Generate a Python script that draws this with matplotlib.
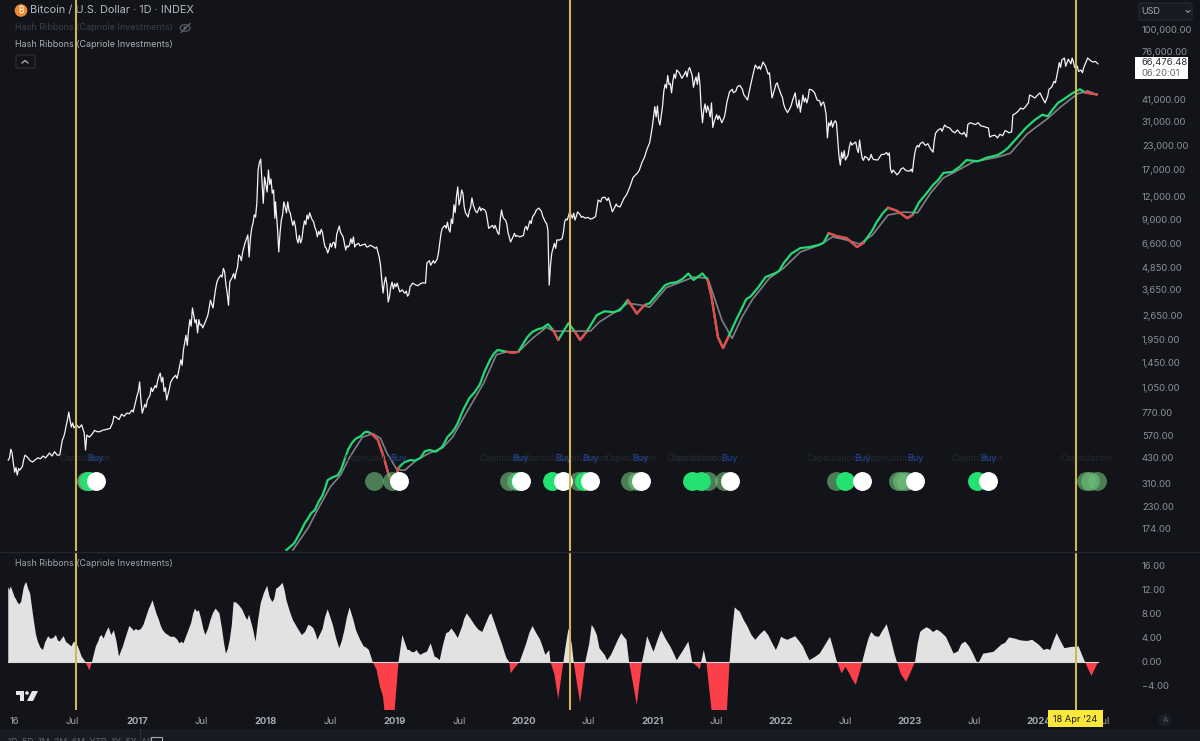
import matplotlib
matplotlib.use("Agg")
import numpy as np
import matplotlib.pyplot as plt
from matplotlib.patches import Rectangle, Circle, Ellipse, FancyBboxPatch, Polygon
from matplotlib.ticker import FixedLocator, FixedFormatter, NullLocator

plt.rcParams['font.family'] = ['Inter', 'DejaVu Sans']

price_dates = [2016.00,2016.03,2016.05,2016.09,2016.15,2016.19,2016.32,2016.40,2016.42,2016.44,2016.47,2016.49,2016.50,2016.57,2016.60,2016.61,2016.69,2016.71,2016.79,2016.84,2016.97,2017.00,2017.02,2017.04,2017.08,2017.12,2017.18,2017.20,2017.23,2017.28,2017.32,2017.36,2017.40,2017.43,2017.47,2017.49,2017.53,2017.59,2017.62,2017.67,2017.71,2017.72,2017.78,2017.79,2017.82,2017.86,2017.87,2017.89,2017.92,2017.94,2017.96,2017.98,2017.99,2018.01,2018.02,2018.06,2018.07,2018.075,2018.09,2018.10,2018.12,2018.14,2018.16,2018.17,2018.20,2018.23,2018.25,2018.27,2018.29,2018.32,2018.34,2018.38,2018.40,2018.44,2018.46,2018.48,2018.52,2018.54,2018.57,2018.60,2018.62,2018.64,2018.68,2018.69,2018.75,2018.79,2018.86,2018.88,2018.90,2018.91,2018.93,2018.95,2018.98,2019.02,2019.04,2019.10,2019.14,2019.24,2019.25,2019.31,2019.34,2019.37,2019.41,2019.43,2019.47,2019.49,2019.50,2019.52,2019.55,2019.57,2019.60,2019.64,2019.70,2019.73,2019.80,2019.83,2019.86,2019.90,2019.97,2020.03,2020.07,2020.12,2020.17,2020.19,2020.20,2020.22,2020.28,2020.34,2020.36,2020.40,2020.42,2020.48,2020.54,2020.58,2020.63,2020.67,2020.69,2020.75,2020.80,2020.85,2020.90,2020.94,2020.98,2021.02,2021.06,2021.11,2021.15,2021.19,2021.23,2021.29,2021.32,2021.36,2021.39,2021.46,2021.47,2021.54,2021.60,2021.68,2021.74,2021.76,2021.80,2021.86,2021.91,2021.93,2021.98,2022.05,2022.11,2022.15,2022.17,2022.20,2022.24,2022.34,2022.36,2022.37,2022.43,2022.44,2022.46,2022.47,2022.50,2022.55,2022.61,2022.67,2022.75,2022.84,2022.86,2022.90,2022.95,2023.02,2023.04,2023.10,2023.18,2023.20,2023.27,2023.31,2023.44,2023.47,2023.53,2023.61,2023.62,2023.68,2023.79,2023.80,2023.92,2023.93,2024.01,2024.05,2024.10,2024.15,2024.18,2024.27,2024.34,2024.42,2024.46]
price_values = [418,457,358,368,433,408,457,446,540,595,770,637,670,655,475,575,600,600,625,720,770,950,1130,760,898,1000,1265,1200,898,1190,1265,1700,2190,2900,2110,2330,2430,2900,4030,4800,3000,4050,4880,5700,5920,7350,5550,8000,9230,16810,19300,11000,15350,12700,16810,13030,9100,11200,8130,5920,8890,11200,9750,11200,8890,8130,6640,6640,8000,9470,9750,8130,7170,7550,6300,5840,6640,6230,8230,7170,6070,6300,7170,6300,6470,6300,6300,5550,4140,3510,4300,3130,4030,3980,3560,3370,3980,3980,5130,5130,5840,8000,8660,7620,9750,13550,10760,13030,9750,9230,11780,9750,10100,8000,7550,10100,8890,6720,7170,7830,9230,10350,8660,7830,3880,5840,6890,8890,9870,8890,9870,9100,9100,11470,11900,11200,9870,10500,12250,15200,16810,19800,23800,37700,29800,47700,44900,60090,54000,62000,48200,58000,30700,39500,28900,30700,45500,49400,41000,48200,64000,66500,58000,42100,48200,34900,44900,35100,43700,39500,46570,37500,25300,30700,30700,24630,17900,21100,19090,23100,24630,19600,19090,20900,16200,15800,17300,16400,21100,24000,21100,26900,29800,28700,25600,30700,30700,28700,25600,25300,27300,33900,39500,43700,44900,39500,48200,60090,68250,66500,58000,66500,65000]

## in-between closes
price_extra_dates = [2016.01,2016.02,2016.04,2016.06,2016.07,2016.08,2016.11,2016.12,2016.13,2016.17,2016.21,2016.23,2016.25,2016.27,2016.29,2016.34,2016.36,2016.38,2016.43,2016.45,2016.46,2016.48,2016.51,2016.53,2016.55,2016.58,2016.59,2016.63,2016.65,2016.67,2016.73,2016.75,2016.77,2016.81,2016.82,2016.86,2016.88,2016.90,2016.92,2016.94,2016.96,2017.01,2017.03,2017.05,2017.06,2017.07,2017.10,2017.11,2017.14,2017.15,2017.16,2017.17,2017.19,2017.21,2017.22,2017.24,2017.25,2017.26,2017.30,2017.31,2017.34,2017.35,2017.38,2017.39,2017.41,2017.42,2017.44,2017.45,2017.46,2017.48,2017.50,2017.51,2017.55,2017.57,2017.60,2017.61,2017.63,2017.65,2017.66,2017.68,2017.69,2017.70,2017.74,2017.75,2017.76,2017.77,2017.80,2017.81,2017.83,2017.84,2017.85,2017.88,2017.90,2017.91,2017.93,2017.95,2017.97,2018.00,2018.03,2018.04,2018.05,2018.08,2018.11,2018.13,2018.15,2018.18,2018.19,2018.21,2018.22,2018.24,2018.26,2018.28,2018.30,2018.31,2018.33,2018.35,2018.36,2018.37,2018.39,2018.41,2018.42,2018.43,2018.45,2018.47,2018.49,2018.50,2018.51,2018.53,2018.55,2018.56,2018.58,2018.59,2018.61,2018.63,2018.65,2018.66,2018.67,2018.70,2018.72,2018.73,2018.77,2018.78,2018.81,2018.83,2018.85,2018.89,2018.92,2018.94,2018.96,2018.97,2018.99,2019.00,2019.01,2019.03,2019.06,2019.07,2019.08,2019.09,2019.11,2019.12,2019.16,2019.18,2019.20,2019.22,2019.27,2019.28,2019.30,2019.33,2019.36,2019.39,2019.40,2019.42,2019.44,2019.45,2019.46,2019.48,2019.51,2019.53,2019.54,2019.56,2019.58,2019.59,2019.61,2019.62,2019.63,2019.66,2019.67,2019.68,2019.71,2019.72,2019.75,2019.76,2019.77,2019.78,2019.81,2019.82,2019.84,2019.85,2019.87,2019.88,2019.92,2019.93,2019.94,2019.95,2020.00,2020.01,2020.02,2020.05,2020.06,2020.09,2020.10,2020.14,2020.15,2020.16,2020.18,2020.21,2020.24,2020.25,2020.26,2020.30,2020.31,2020.32,2020.33,2020.35,2020.38,2020.39,2020.41,2020.44,2020.45,2020.46,2020.50,2020.52,2020.56,2020.60,2020.61,2020.65,2020.66,2020.71,2020.72,2020.73,2020.77,2020.78,2020.82,2020.83,2020.87,2020.88,2020.92,2020.96,2021.00,2021.01,2021.03,2021.04,2021.05,2021.08,2021.09,2021.10,2021.12,2021.13,2021.14,2021.16,2021.17,2021.18,2021.21,2021.25,2021.26,2021.27,2021.28,2021.31,2021.33,2021.34,2021.35,2021.37,2021.38,2021.40,2021.41,2021.42,2021.43,2021.44,2021.45,2021.48,2021.50,2021.51,2021.52,2021.56,2021.57,2021.58,2021.62,2021.63,2021.65,2021.66,2021.70,2021.71,2021.72,2021.78,2021.79,2021.82,2021.83,2021.84,2021.88,2021.89,2021.90,2021.92,2021.95,2021.96,2021.97,2022.00,2022.01,2022.02,2022.03,2022.07,2022.08,2022.09,2022.12,2022.13,2022.14,2022.18,2022.19,2022.21,2022.22,2022.26,2022.27,2022.28,2022.30,2022.31,2022.32,2022.33,2022.35,2022.38,2022.39,2022.40,2022.41,2022.42,2022.45,2022.48,2022.49,2022.52,2022.53,2022.54,2022.56,2022.58,2022.59,2022.60,2022.62,2022.63,2022.64,2022.65,2022.68,2022.69,2022.70,2022.71,2022.72,2022.78,2022.80,2022.82,2022.83,2022.85,2022.87,2022.88,2022.92,2022.93,2022.96,2022.98,2023.00,2023.01,2023.03,2023.05,2023.06,2023.07,2023.08,2023.12,2023.14,2023.16,2023.19,2023.22,2023.24,2023.25,2023.29,2023.33,2023.35,2023.37,2023.39,2023.41,2023.42,2023.45,2023.49,2023.51,2023.55,2023.57,2023.59,2023.64,2023.66,2023.70,2023.72,2023.74,2023.77,2023.82,2023.84,2023.86,2023.88,2023.90,2023.95,2023.97,2023.99,2024.03,2024.07,2024.08,2024.12,2024.13,2024.16,2024.17,2024.20,2024.21,2024.23,2024.25,2024.26,2024.28,2024.29,2024.30,2024.31,2024.33,2024.35,2024.37,2024.38,2024.40,2024.44]
price_extra_values = [430,480,400,380,345,375,385,420,445,415,420,430,425,440,430,440,465,445,560,650,700,690,630,655,630,620,590,560,580,610,610,615,620,670,730,700,750,730,760,755,790,1000,900,800,850,820,950,1050,1080,1050,1150,1220,1130,1000,1050,960,1030,1120,1230,1180,1500,1400,2050,1800,2500,2300,2650,2400,2500,2500,2350,2250,2650,3200,3300,3700,4200,4400,4300,4600,3900,3500,4300,4500,4200,4600,5600,5300,6300,6700,7000,7000,8500,9500,11000,18500,14500,14000,14000,15000,12500,10000,7500,9500,10500,10000,9700,8300,8800,7000,7300,7000,8800,8400,9000,9300,8900,8700,7800,7700,7400,7900,6800,6200,6100,6600,6300,6700,7400,7800,7600,7400,6600,6400,6500,7000,6600,6500,6600,6400,6550,6350,6450,6350,6200,5000,4000,3900,3350,3800,3700,3950,3800,3750,3650,3550,3500,3600,3450,3800,3900,3850,3950,4000,5300,5000,5300,5400,7500,8300,8000,7900,9000,8500,10800,12000,11500,12500,10500,9500,10000,10500,10800,10300,9900,10500,10000,10300,9800,8900,8200,8300,8000,8300,7400,9000,9300,9000,8500,7600,7200,7500,7200,7300,7300,8000,8200,8800,8500,9700,10100,9900,9300,9000,8500,5000,6600,6200,6900,7000,7600,8700,9000,9400,9100,9700,9300,9500,9200,9300,9200,9000,9300,11200,11800,11400,11800,10500,10900,10600,11300,11700,13200,13800,15800,16000,18500,22000,29000,33000,33000,38000,31500,38000,46000,50000,56000,50000,50500,52000,57000,54000,58000,57000,59000,55000,60000,56000,52000,55000,50000,50000,37000,36000,39000,35000,38000,36000,33000,31000,34000,32000,33500,33000,36000,40000,47000,45000,46000,48500,47000,44000,43000,56000,60000,61000,63000,60500,63000,60000,57000,49000,47000,50000,51000,44000,42500,39000,37000,37000,38500,41000,39000,37000,41000,40000,42000,42000,47000,45000,43000,41000,40500,38000,39500,40000,34000,29500,31500,29000,30500,31500,20000,19500,21500,20300,22500,24000,23500,24000,22000,21000,21500,19500,19000,20000,19000,19500,20500,19500,19200,20500,20500,21000,20300,17000,16800,16500,16400,17000,16900,16600,16600,17000,19000,22500,23000,22500,23500,23000,23500,22000,24500,28000,28500,27500,29000,27500,27000,28000,26800,26500,27200,30000,30300,30000,29500,29300,29000,26000,26200,26500,26000,27800,27000,34500,35500,37000,36500,37800,43000,42000,43500,42000,43000,47000,52000,51000,66000,62000,70000,63000,69000,65000,70000,62000,64000,63000,59000,60000,62000,67000,70000,68000,67000]

## hash ribbon fast line
fast_dates = [2018.16,2018.27,2018.33,2018.38,2018.44,2018.48,2018.56,2018.61,2018.67,2018.79,2018.82,2018.87,2018.91,2018.95,2018.99,2019.03,2019.12,2019.20,2019.27,2019.37,2019.45,2019.49,2019.58,2019.66,2019.74,2019.80,2019.87,2019.92,2019.96,2020.07,2020.15,2020.19,2020.23,2020.27,2020.35,2020.40,2020.44,2020.49,2020.57,2020.70,2020.81,2020.88,2020.94,2020.98,2021.10,2021.19,2021.28,2021.32,2021.39,2021.43,2021.46,2021.51,2021.55,2021.59,2021.70,2021.76,2021.88,2021.95,2022.02,2022.15,2022.29,2022.37,2022.43,2022.51,2022.59,2022.64,2022.71,2022.83,2022.90,2022.98,2023.02,2023.13,2023.26,2023.33,2023.44,2023.53,2023.68,2023.76,2023.90,2024.03,2024.07,2024.15,2024.32,2024.36,2024.45]
fast_values = [133,168,200,221,267,324,345,418,522,600,585,540,446,354,303,378,418,430,475,495,600,670,920,1090,1495,1700,1660,1640,1660,2140,2250,2360,2190,1930,2390,2140,1930,2140,2650,2750,3210,2700,3010,3080,3880,4030,4500,4140,4500,4140,3340,2000,1740,2000,2930,3340,4300,4500,5130,6220,6470,7520,7250,7060,6300,6640,7830,10400,10000,9100,9470,12500,16200,16400,19090,18800,20300,22200,28700,34000,33300,39500,47000,45100,44000]
fast_extra_dates = [2018.22,2018.30,2018.35,2018.41,2018.46,2018.52,2018.585,2018.64,2018.70,2018.735,2018.765,2019.07,2019.16,2019.235,2019.32,2019.41,2019.47,2019.535,2019.62,2019.70,2019.77,2020.03,2020.11,2020.63,2020.75,2021.14,2021.235,2021.65,2021.73,2021.82,2021.985,2022.08,2022.22,2022.33,2022.74,2022.79,2023.07,2023.18,2023.22,2023.39,2023.49,2023.60,2023.72,2023.83,2023.97,2024.11,2024.20,2024.26]
fast_extra_values = [145,186,212,246,292,336,372,480,550,565,595,405,415,468,465,560,630,800,990,1300,1620,2000,2210,2780,2820,3980,4200,2480,3250,3750,4650,5800,6300,6650,8600,9700,11100,13900,14800,17600,18900,19700,21100,25200,31800,36400,41600,44600]

## hash ribbon slow line
slow_dates = [2018.21,2018.33,2018.40,2018.50,2018.58,2018.65,2018.75,2018.83,2018.89,2018.94,2019.02,2019.08,2019.17,2019.27,2019.37,2019.45,2019.56,2019.69,2019.79,2019.87,2019.96,2020.07,2020.18,2020.23,2020.36,2020.52,2020.59,2020.70,2020.81,2020.91,2020.98,2021.11,2021.22,2021.32,2021.43,2021.47,2021.54,2021.62,2021.70,2021.78,2021.91,2022.02,2022.15,2022.30,2022.40,2022.51,2022.61,2022.71,2022.83,2022.95,2023.06,2023.16,2023.26,2023.35,2023.49,2023.68,2023.78,2023.91,2024.07,2024.17,2024.30,2024.38,2024.45]
slow_values = [133,177,221,297,345,433,560,585,552,457,368,368,418,457,487,560,770,1110,1600,1660,1660,1970,2270,2160,2160,2160,2430,2720,3080,3010,2930,3760,4030,4300,4240,3510,2490,1970,2610,3250,4240,4820,5920,6470,7170,6890,6550,7350,9470,9840,9750,12500,15200,16400,18600,19800,20800,26600,32400,37500,44300,46000,44000]

## stretches where the fast line is under the slow one (drawn red)
red_periods = [(2018.82,2019.03),(2019.87,2019.96),(2020.23,2020.33),(2020.37,2020.49),(2020.81,2020.94),(2021.32,2021.37),(2021.40,2021.59),(2022.37,2022.64),(2022.83,2023.02),(2024.34,2024.46)]

## lower pane oscillator
hash_dates = [2016.00,2016.03,2016.07,2016.10,2016.14,2016.17,2016.20,2016.23,2016.27,2016.31,2016.34,2016.37,2016.40,2016.43,2016.49,2016.53,2016.57,2016.60,2016.63,2016.65,2016.68,2016.71,2016.74,2016.78,2016.80,2016.82,2016.86,2016.89,2016.94,2016.96,2017.01,2017.05,2017.12,2017.15,2017.20,2017.24,2017.29,2017.33,2017.36,2017.39,2017.45,2017.48,2017.53,2017.57,2017.61,2017.64,2017.69,2017.72,2017.75,2017.79,2017.84,2017.87,2017.92,2017.96,2018.01,2018.05,2018.08,2018.13,2018.16,2018.21,2018.28,2018.33,2018.37,2018.40,2018.48,2018.52,2018.57,2018.61,2018.65,2018.70,2018.76,2018.80,2018.83,2018.86,2018.91,2018.92,2019.00,2019.03,2019.06,2019.10,2019.13,2019.17,2019.20,2019.25,2019.28,2019.31,2019.35,2019.40,2019.44,2019.49,2019.56,2019.62,2019.68,2019.75,2019.80,2019.87,2019.89,2019.90,2019.93,2019.97,2020.07,2020.13,2020.17,2020.20,2020.21,2020.27,2020.31,2020.35,2020.39,2020.44,2020.48,2020.53,2020.59,2020.65,2020.71,2020.76,2020.80,2020.82,2020.88,2020.92,2020.96,2021.01,2021.07,2021.14,2021.19,2021.28,2021.31,2021.37,2021.38,2021.40,2021.42,2021.46,2021.58,2021.60,2021.64,2021.68,2021.74,2021.80,2021.87,2021.96,2022.00,2022.05,2022.11,2022.17,2022.22,2022.30,2022.38,2022.43,2022.47,2022.50,2022.53,2022.58,2022.63,2022.70,2022.76,2022.82,2022.88,2022.90,2022.97,2023.04,2023.08,2023.13,2023.18,2023.24,2023.28,2023.34,2023.43,2023.52,2023.53,2023.57,2023.65,2023.77,2023.86,2023.95,2024.04,2024.09,2024.14,2024.20,2024.31,2024.36,2024.41,2024.46]
hash_values = [12.5,12,10,10,13.3,11.4,6.7,3.4,2,4.3,3.9,4.5,3.4,4.3,2.6,3.1,.9,0,-1.4,0,2.6,4.2,3.9,5.8,4.5,5.3,.9,2.6,6,5.6,5.3,6.2,10.3,8.1,5.3,4.5,4.2,3.1,3.1,4.8,8.9,8.6,4.5,7,8.9,8.1,1.4,3.7,10,9.5,7.6,7.9,3.4,9.8,12.7,10,12.2,13.2,10.3,7,4.5,6.2,5.6,3.7,8.8,6.2,2.3,5.3,9.1,5.3,2.6,2,0,-1.3,-5.8,-8,-8,0,4.5,2,1.7,2,1.2,1.7,3.1,.9,.3,4.8,5.6,4,8.1,6.2,5,8.1,5,.6,0,-1.9,-1,0,6,3.7,1.2,2,0,-6.2,0,5.6,0,-6.8,0,6.2,2.3,.3,2.6,4.8,3.7,0,-7.2,0,4.3,1.7,5.3,2.6,.3,3.4,0,-1.2,0,2,0,-8,-8,0,9.1,8.4,5.9,3.7,5.3,2,4.2,3.7,4.3,2.6,.3,1.4,4.2,.3,-1.9,-.8,-1.9,-3.8,0,5,4.2,6.3,1.4,0,-3.3,0,5,5.8,5,5,4.2,1.4,3.4,0,-.3,1.4,1.7,4.1,3.6,3.7,2,2,4.8,2.3,2.6,0,-2.3,0]
hash_extra_dates = [2016.01,2016.02,2016.05,2016.06,2016.085,2016.12,2016.13,2016.155,2016.185,2016.215,2016.25,2016.285,2016.325,2016.355,2016.385,2016.415,2016.45,2016.47,2016.51,2016.55,2016.70,2016.725,2016.76,2016.79,2016.81,2016.84,2016.875,2016.91,2016.925,2016.975,2016.99,2017.03,2017.07,2017.09,2017.105,2017.135,2017.17,2017.185,2017.22,2017.26,2017.31,2017.345,2017.42,2017.435,2017.465,2017.50,2017.515,2017.55,2017.59,2017.625,2017.66,2017.675,2017.705,2017.735,2017.77,2017.815,2017.855,2017.90,2017.94,2017.985,2018.03,2018.065,2018.105,2018.145,2018.185,2018.25,2018.305,2018.35,2018.39,2018.44,2018.46,2018.50,2018.545,2018.59,2018.63,2018.68,2018.73,2018.78,2018.815,2018.885,2018.96,2019.05,2019.08,2019.115,2019.15,2019.185,2019.225,2019.265,2019.295,2019.33,2019.375,2019.42,2019.465,2019.525,2019.54,2019.59,2019.65,2019.715,2019.735,2019.775,2019.83,2019.855,2020.02,2020.045,2020.10,2020.15,2020.24,2020.29,2020.33,2020.375,2020.415,2020.46,2020.51,2020.55,2020.57,2020.63,2020.68,2020.735,2020.78,2020.85,2020.90,2020.945,2020.985,2021.04,2021.105,2021.165,2021.235,2021.295,2021.62,2021.66,2021.71,2021.77,2021.835,2021.90,2021.93,2021.98,2022.025,2022.08,2022.14,2022.195,2022.26,2022.34,2022.405,2022.55,2022.605,2022.66,2022.68,2022.73,2022.79,2022.85,2022.93,2023.00,2023.06,2023.10,2023.155,2023.21,2023.26,2023.31,2023.375,2023.40,2023.46,2023.49,2023.60,2023.71,2023.74,2023.815,2023.91,2024.00,2024.065,2024.115,2024.17,2024.25,2024.34,2024.385,2024.435]
hash_extra_values = [12,12.6,10.8,10.5,9.6,12.4,13,12.2,9,4.6,2.4,3.2,3.9,4.1,3.6,3.9,3.3,3,3.4,2.1,3.5,4.5,5,5.1,4.9,3.5,1.8,4,5,5.2,5.5,5.5,7.5,8.8,9.5,9.2,7,6,4.8,4.2,3.8,3.4,6.5,8,8.4,7,5.5,5.5,8.2,8.5,5.5,3.2,2.2,6,9.9,8.8,7,5.5,7,11.5,10.8,10.5,12.6,12,8.5,5.5,5,6,4.5,5.5,7.5,7.5,4,3.5,7.5,7,3.8,2.4,1,-4,-8,3,3.2,2,1.6,1.5,1.5,2.4,2,.7,2.8,5,4.9,6,7.2,7.2,5.4,6.8,7.8,6.6,3.2,1.5,3,4.8,4.8,2.5,-2,-3,3,3,-3.5,-3.5,3,5.5,4.5,1.2,1.2,3.8,4.2,-3.5,-3.5,2.5,3,3.6,3.8,1.5,1.8,1.8,5,8.7,7,4.5,4.6,4.5,3.2,3,3.9,4,3.5,1.4,.8,2.8,2.3,-2.8,-2,2.5,4,4.3,5.3,4,-2,-2,3,5.4,5.5,5.4,4.6,2.8,1.8,3,2.6,1.4,1.5,2.9,3.2,3.9,3.5,2.9,2.2,3.5,3.5,2.5,1,-1.2,-1.2]

## signal markers
buy_dates = [2016.68,2019.03,2019.98,2020.31,2020.52,2020.91,2021.60,2022.63,2023.04,2023.61]
strong_dates = [2016.63,2019.97,2020.22,2020.47,2021.31,2021.38,2022.50,2023.52]
faded_dates = [2016.60,2016.61,2018.84,2018.98,2019.89,2019.94,2020.42,2020.83,2020.88,2021.43,2021.56,2022.43,2022.91,2022.94,2022.97,2024.37,2024.40,2024.45]
capitulation_dates = [2016.60,2018.81,2019.86,2020.20,2020.46,2020.83,2021.31,2021.35,2022.40,2022.85,2023.52,2024.37]
halving_dates = [2016.526,2020.36,2024.29]

price_ticks = [100000,76000,41000,31000,23000,17000,12000,9000,6600,4850,3650,2650,1950,1450,1050,770,570,430,310,230,174]
left_ticks = [54100,40000,29400,21690,16400,12250,9230,7060,4880,3560,2570,1880,1380,1020,790,590,433,333,245,178]
hash_ticks = [16,12,8,4,0,-4]
time_ticks = [2016.05,2016.5,2017,2017.5,2018,2018.5,2019,2019.5,2020,2020.5,2021,2021.5,2022,2022.5,2023,2023.5,2024,2024.5]
time_labels = ['16','Jul','2017','Jul','2018','Jul','2019','Jul','2020','Jul','2021','Jul','2022','Jul','2023','Jul','2024','Jul']

W, H = 1200, 741
BG = '#131419'
GREEN = '#26d873'
RED = '#f2424d'
YELLOW = '#d2b655'

def pane(x0, y0, x1, y1):
    # axes from pixel box, y measured from the top
    return fig.add_axes([x0/W, 1-y1/H, (x1-x0)/W, (y1-y0)/H])

def merged(dates, values, extra_dates, extra_values):
    d = np.array(dates + extra_dates)
    v = np.array(values + extra_values)
    order = np.argsort(d, kind='stable')
    return d[order], v[order]

fig = plt.figure(figsize=(12, 7.41), dpi=100, facecolor=BG)
ax = pane(0, 0, 1135, 551)
ax2 = pane(0, 552, 1135, 710)
xlim = (2015.936, 2024.748)

# price pane
ax.set_facecolor(BG)
ax.set_yscale('log')
ax.set_xlim(xlim)
ax.set_ylim(131.3, 146500)
pd_, pv_ = merged(price_dates, price_values, price_extra_dates, price_extra_values)
ax.plot(pd_, pv_, color='#f4f4f4', lw=0.9, zorder=3)
ax.plot(slow_dates, slow_values, color='#7f7f85', lw=1.2, zorder=4)
fd, fv = merged(fast_dates, fast_values, fast_extra_dates, fast_extra_values)
ax.plot(fd, fv, color=GREEN, lw=1.6, zorder=5)
for start, end in red_periods:
    m = (fd >= start) & (fd <= end)
    ax.plot(fd[m], fv[m], color=RED, lw=1.6, zorder=6)

dot_y = 320
ax.scatter(faded_dates, [dot_y]*len(faded_dates), s=185, color='#6fc07a', alpha=0.62, lw=0, zorder=7)
ax.scatter(strong_dates, [dot_y]*len(strong_dates), s=185, color='#23e272', lw=0, zorder=8)
ax.scatter(buy_dates, [dot_y]*len(buy_dates), s=185, color='white', lw=0, zorder=9)
for d in capitulation_dates:
    ax.text(d, 424, 'Capitulation', color='#25282f', fontsize=6.5, ha='center', va='center', zorder=7)
for d in buy_dates:
    ax.text(d, 424, 'Buy', color='#1f49a3', fontsize=6.5, ha='center', va='center', zorder=8)

ax.yaxis.tick_right()
ax.yaxis.set_major_locator(FixedLocator(price_ticks))
ax.yaxis.set_major_formatter(FixedFormatter([f'{p:,.2f}' for p in price_ticks]))
ax.yaxis.set_minor_locator(NullLocator())
ax.tick_params(axis='y', length=0, pad=5, labelsize=6.8, labelcolor='#8d9098')
ax.xaxis.set_major_locator(NullLocator())
for p in left_ticks:
    # cut off labels of the left scale at the picture edge
    ax.text(0.0, p, '0', transform=ax.get_yaxis_transform(), color='#70737a', fontsize=6.5, ha='right', va='center', clip_on=False)
for s in ax.spines.values():
    s.set_visible(False)

# oscillator pane
ax2.set_facecolor(BG)
ax2.set_xlim(xlim)
ax2.set_ylim(-8, 18.33)
hd, hv = merged(hash_dates, hash_values, hash_extra_dates, hash_extra_values)
ax2.fill_between(hd, 0, hv, where=hv >= 0, color='#e2e2e2', lw=0, interpolate=True, zorder=3)
ax2.fill_between(hd, 0, hv, where=hv <= 0, color='#fb4049', lw=0, interpolate=True, zorder=3)
ax2.plot([hd[0], hd[-1]], [0, 0], color='#d8d8d8', lw=0.8, zorder=4)
ax2.yaxis.tick_right()
ax2.yaxis.set_major_locator(FixedLocator(hash_ticks))
ax2.yaxis.set_major_formatter(FixedFormatter([f'{v:.2f}'.replace('-', '\u2212') for v in hash_ticks]))
ax2.tick_params(axis='y', length=0, pad=5, labelsize=6.8, labelcolor='#8d9098')
ax2.xaxis.set_major_locator(FixedLocator(time_ticks))
ax2.xaxis.set_major_formatter(FixedFormatter(time_labels))
ax2.tick_params(axis='x', length=0, pad=5, labelsize=6.8, labelcolor='#a8abb2')
for lbl in ax2.get_xticklabels():
    if lbl.get_text().startswith('20'):
        lbl.set_fontweight('bold')
for s in ax2.spines.values():
    s.set_visible(False)

for d in halving_dates:
    ax.axvline(d, color=YELLOW, lw=1.5, zorder=10)
    ax2.axvline(d, color=YELLOW, lw=1.5, zorder=10)

# interface bits, in pixels
ui = fig.add_axes([0, 0, 1, 1])
ui.set_xlim(0, W)
ui.set_ylim(H, 0)
ui.axis('off')
ui.patch.set_alpha(0)
ui.plot([0, 1200], [551.5, 551.5], color='#24272f', lw=1)
ui.add_patch(Rectangle((0, 729), W, 12, color='#181b22', lw=0))

ui.add_patch(Circle((21, 10.5), 6.3, color='#ee8d2f', lw=0))
ui.text(21, 10.5, '\u20bf', color='white', fontsize=6, ha='center', va='center',
        family=['Inter', 'Noto Sans', 'Roboto', 'Open Sans', 'Liberation Sans', 'DejaVu Sans'])
ui.text(30, 10.5, 'Bitcoin / U.S. Dollar \u00b7 1D \u00b7 INDEX', color='#b5b8bf', fontsize=7.85, va='center')
ui.text(15, 28, 'Hash Ribbons (Capriole Investments)', color='#3d4048', fontsize=6.45, va='center')
ui.text(15, 44.5, 'Hash Ribbons (Capriole Investments)', color='#aeb1b8', fontsize=6.45, va='center')
ui.text(15, 563.5, 'Hash Ribbons (Capriole Investments)', color='#a2a5ac', fontsize=6.45, va='center')
ui.add_patch(Ellipse((185, 28), 10, 6.5, fill=False, ec='#62656c', lw=0.8))
ui.add_patch(Circle((185, 28), 1.6, color='#62656c', lw=0))
ui.plot([181, 190], [32.5, 23.5], color='#62656c', lw=0.8)
ui.add_patch(FancyBboxPatch((16, 55), 19, 13, boxstyle='round,pad=0,rounding_size=1.5', fill=False, ec='#2e3139', lw=0.8))
ui.plot([22, 25, 28], [63, 60.5, 63], color='#b5b8bf', lw=0.9)

# tradingview mark
ui.add_patch(Polygon([(16, 691), (24, 691), (24, 701), (20, 701), (20, 695), (16, 695)], color='#e6e6e6', lw=0))
ui.add_patch(Circle((27, 693), 1.8, color='#e6e6e6', lw=0))
ui.add_patch(Polygon([(32, 691), (38, 691), (33, 701), (27, 701)], color='#e6e6e6', lw=0))

# currency button and last price tag
ui.add_patch(FancyBboxPatch((1139, 3), 53, 17, boxstyle='round,pad=0,rounding_size=2', fc='#171b24', ec='#262a33', lw=0.8))
ui.text(1141, 11.5, 'USD', color='#a6a9b0', fontsize=6.5, va='center')
ui.plot([1186, 1188, 1190], [10.5, 12.5, 10.5], color='#a6a9b0', lw=0.7)
ui.add_patch(Rectangle((1135, 57), 53, 22, color='white', lw=0))
ui.text(1141, 62.5, '66,476.48', color='#2b2d33', fontsize=6.8, va='center')
ui.text(1141, 73, '06:20:01', color='#666970', fontsize=6.8, va='center')

# crosshair date tag
ui.add_patch(Rectangle((1048, 710), 55, 17, color='#fbe83c', lw=0, zorder=5))
ui.text(1075.5, 719, "18 Apr '24", color='#1a1a1a', fontsize=6.6, ha='center', va='center', zorder=6)
ui.add_patch(Circle((1165, 720), 6.5, color='#1c1f27', lw=0))
ui.text(1165, 720, 'A', color='#5f626a', fontsize=5.5, ha='center', va='center')

# range buttons, cut by the bottom edge
ui.text(8, 738, '1D  5D  1M  3M  6M  YTD  1Y  5Y  All', color='#62656c', fontsize=6.2, va='top', clip_on=True)
ui.plot([140, 140], [729, 741], color='#2e3139', lw=0.8)
ui.add_patch(Rectangle((151, 737), 11, 8, fill=False, ec='#a6a9b0', lw=0.8))

fig.savefig('out.png', dpi=100, facecolor=BG)
